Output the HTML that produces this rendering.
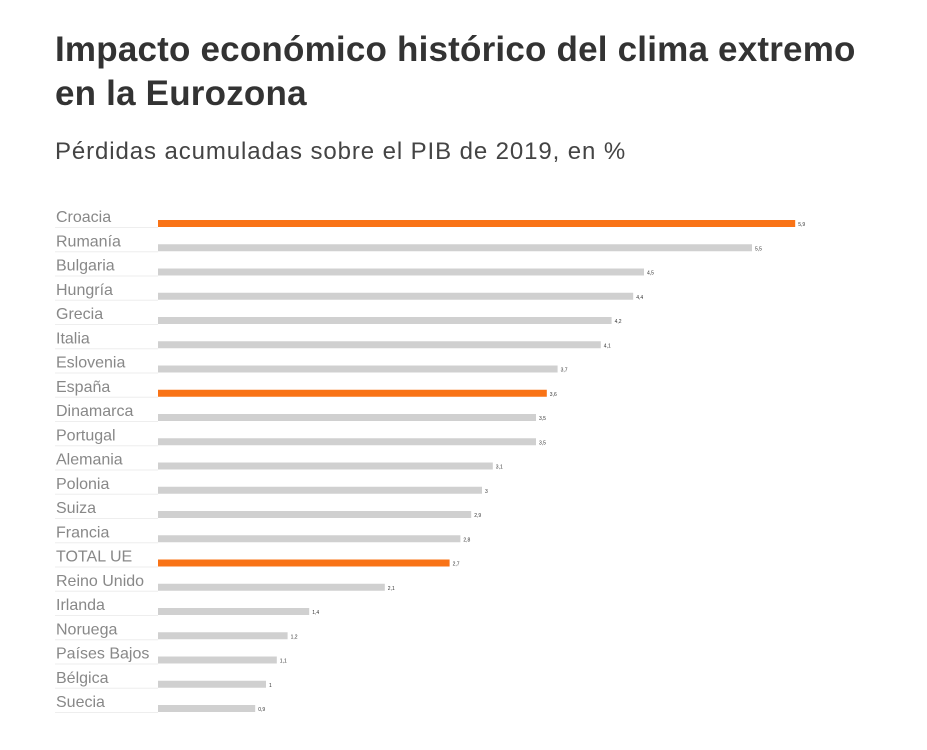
<!DOCTYPE html>
<html><head><meta charset="utf-8"><style>
body{margin:0;background:#fff;width:927px;height:750px;overflow:hidden;font-family:"Liberation Sans",sans-serif;}
h1{position:absolute;left:55px;top:28px;margin:0;font-size:35px;line-height:44px;font-weight:bold;color:#333;letter-spacing:0.2px;}
h2{position:absolute;left:55px;top:138px;margin:0;font-size:24px;font-weight:normal;color:#444;letter-spacing:0.9px;}
</style></head><body>
<h1>Impacto económico histórico del clima extremo<br>en la Eurozona</h1>
<h2>Pérdidas acumuladas sobre el PIB de 2019, en %</h2>
<svg id="chart" width="927" height="750" style="position:absolute;left:0;top:0"></svg>
<script>
const categories=["Croacia","Rumanía","Bulgaria","Hungría","Grecia","Italia","Eslovenia","España","Dinamarca","Portugal","Alemania","Polonia","Suiza","Francia","TOTAL UE","Reino Unido","Irlanda","Noruega","Países Bajos","Bélgica","Suecia"];
const values=[5.9,5.5,4.5,4.4,4.2,4.1,3.7,3.6,3.5,3.5,3.1,3,2.9,2.8,2.7,2.1,1.4,1.2,1.1,1,0.9];
const highlighted=["Croacia","España","TOTAL UE"];
const svg=document.getElementById('chart');
const NS='http://www.w3.org/2000/svg';
const x0=158, pxPerUnit=108;
function xScale(v){return x0+v*pxPerUnit;}
function yRow(i){return 219+i*24.25;}
categories.forEach((c,i)=>{
  const y=yRow(i);
  const t=document.createElementNS(NS,'text');
  
  
  t.setAttribute('x',56);t.setAttribute('y',y+3);
  t.setAttribute('font-size','16');t.setAttribute('fill','#888');
  t.setAttribute('font-family','"Liberation Sans",sans-serif');
  t.textContent=c;svg.appendChild(t);
  const l=document.createElementNS(NS,'rect');
  
  
  l.setAttribute('x',55);l.setAttribute('y',y+8);l.setAttribute('width',103);l.setAttribute('height',1);l.setAttribute('fill','#eee');
  svg.appendChild(l);
  const r=document.createElementNS(NS,'rect');
  
  
  r.setAttribute('x',x0);r.setAttribute('y',y+1);
  r.setAttribute('width',xScale(values[i])-x0);r.setAttribute('height',7);
  r.setAttribute('fill',highlighted.includes(c)?'#f97316':'#d0d0d0');
  svg.appendChild(r);
  const v=document.createElementNS(NS,'text');
  
  
  v.setAttribute('x',xScale(values[i])+3);v.setAttribute('y',y+7);
  v.setAttribute('font-size','5');v.setAttribute('fill','#333');
  v.setAttribute('font-family','"Liberation Sans",sans-serif');
  v.textContent=String(values[i]).replace('.',',');
  svg.appendChild(v);
});
</script>
</body></html>
